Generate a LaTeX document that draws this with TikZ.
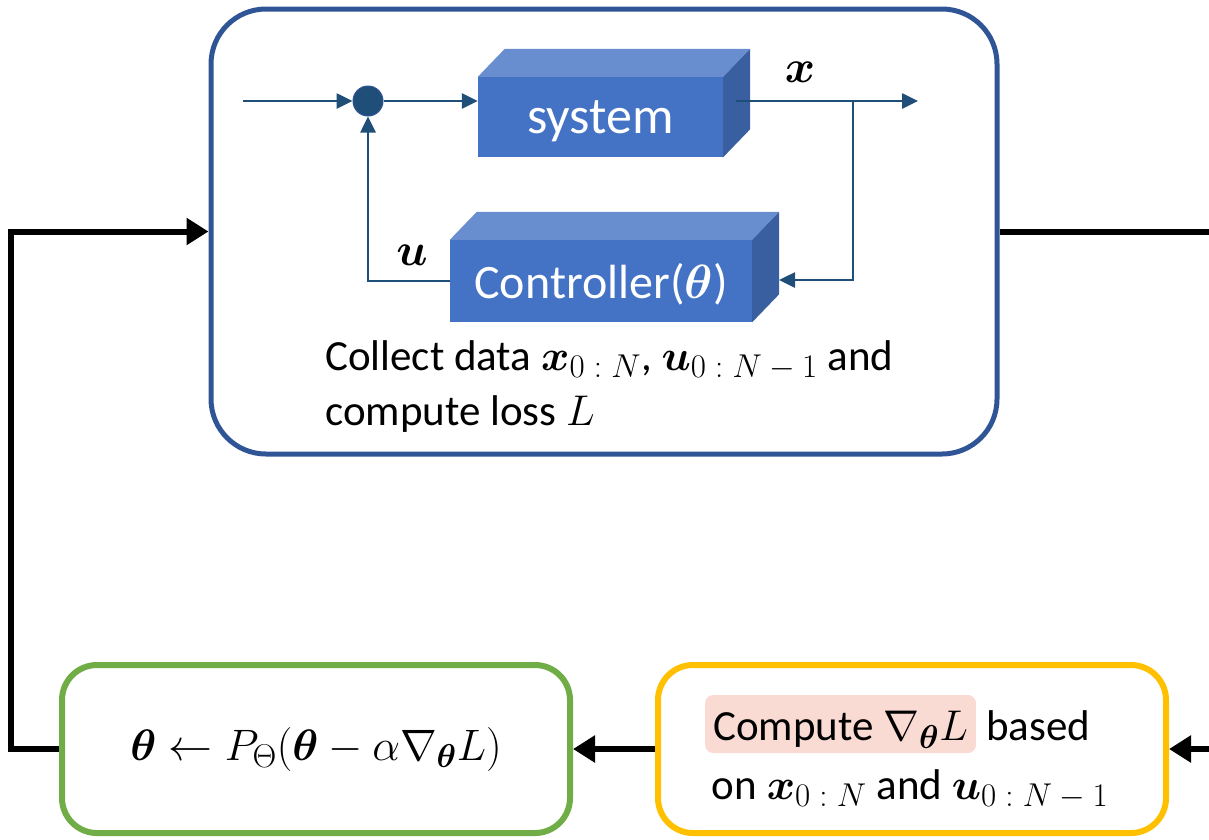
\RequirePackage{fix-cm}
\documentclass[tikz,border=0pt]{standalone}
\usepackage{amsmath}
\usepackage{bm}
\usepackage{fontspec}
\setmainfont{Carlito}
\usetikzlibrary{arrows.meta}
\definecolor{boxblue}{HTML}{2F5597}
\definecolor{lineblue}{HTML}{1F4E79}
\definecolor{frontblue}{HTML}{4472C4}
\definecolor{topblue}{HTML}{698ED0}
\definecolor{sideblue}{HTML}{3A5FA0}
\definecolor{updgreen}{HTML}{70AD47}
\definecolor{gradyellow}{HTML}{FFC000}
\definecolor{hlpink}{HTML}{FADBD3}
\newcommand\subx[1]{_{\hbox{\fontsize{33}{36}\selectfont$#1$}}}
\newcommand\cuboidfaces[1]{%
  \fill[topblue] (#1.north west) -- ++(27,-28) -- ([shift={(27,-28)}]#1.north east) -- (#1.north east) -- cycle;
  \fill[sideblue] (#1.north east) -- ([shift={(27,-28)}]#1.north east) -- ([shift={(27,-28)}]#1.south east) -- (#1.south east) -- cycle;}
\begin{document}
\begin{tikzpicture}[x=1pt,y=-1pt,
  txt/.style={font=\fontsize{43}{50}\selectfont, inner sep=0pt},
  bigbox/.style={draw=boxblue, line width=5pt, rounded corners=55pt},
  stagebox/.style={line width=6pt, rounded corners=35pt, minimum width=508pt, minimum height=168pt, fill=white},
  cubefront/.style={fill=frontblue, text=white, inner sep=0pt, text depth=0pt},
  sig/.style={draw=lineblue, line width=2.6pt, -{Triangle[length=16pt,width=15pt]}},
  flow/.style={draw=black, line width=6pt, -{Triangle[length=22pt,width=26pt]}}
]
\clip (0,0) rectangle (1209,839);

% outer box
\node[bigbox, minimum width=786pt, minimum height=445pt] (big) at (604,231.5) {};

% inner block diagram
\node[circle, fill=lineblue, draw=boxblue, line width=1pt, minimum size=30pt, inner sep=0pt] (sum) at (368,101) {};
\node[cubefront, font=\fontsize{52}{56}\selectfont, minimum width=245pt, minimum height=80pt] (sys) at (600.5,117) {system};
\cuboidfaces{sys}
\node[cubefront, font=\fontsize{48}{52}\selectfont, minimum width=302pt, minimum height=82pt] (ctrl) at (601,281) {Controller($\bm\theta$)};
\cuboidfaces{ctrl}

\coordinate (ref) at (243,101);
\coordinate (out) at (918,101);
\coordinate (tap) at (853,101);
\coordinate (cin) at (779,280);
\path (sys.east |- sum) ++(13,0) coordinate (sysout);

\draw[sig] (ref) -- (sum.west);
\draw[sig] (sum.east) -- (sum -| sys.west);
\draw[sig] (sysout) -- (out);
\draw[sig] (tap) |- (cin);
\draw[sig] (ctrl.west) -| (sum.south);

\node[txt, font=\fontsize{46}{50}\selectfont] (xlab) at (800,72) {$\bm{x}$};
\node[txt, font=\fontsize{46}{50}\selectfont] (ulab) at (412,255) {$\bm{u}$};

\node[txt, anchor=base west] (col1) at (325,370) {Collect data $\bm{x}\subx{0:N}$, $\bm{u}\subx{0:N-1}$ and};
\node[txt, anchor=base west] (col2) at (325,425) {compute loss $L$};

% bottom stages
\node[stagebox, draw=updgreen, font=\fontsize{44}{50}\selectfont] (upd) at (316,749)
  {$\bm\theta \leftarrow P\subx{\Theta}(\bm\theta - \alpha\nabla\subx{\bm\theta} L)$};
\node[stagebox, draw=gradyellow] (grad) at (912,749) {};
\node[txt, fill=hlpink, rounded corners=8pt, inner xsep=8pt, inner ysep=3pt, text height=42pt, text depth=10pt, anchor=base west] (hl) at (705,740) {Compute $\nabla\subx{\bm\theta} L$};
\node[txt, anchor=base west] (based) at ([xshift=10pt]hl.base east) {based};
\node[txt, anchor=base] (on) at (910,799) {on $\bm{x}\subx{0:N}$ and $\bm{u}\subx{0:N-1}$};

% main loop connectors
\draw[flow] (upd.west) -- ++(-48,0) |- (big.west);
\draw[flow] (big.east) -- ++(260,0) |- (grad.east);
\draw[flow] (grad.west) -- (upd.east);
\end{tikzpicture}
\end{document}
